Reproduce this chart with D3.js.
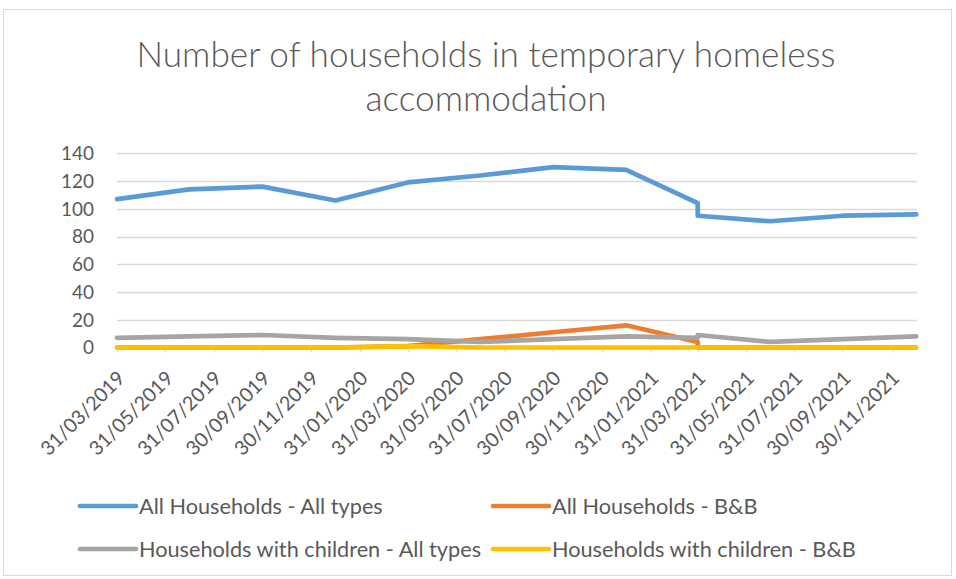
<!DOCTYPE html>
<html>
<head>
<meta charset="utf-8">
<script src="https://cdn.jsdelivr.net/npm/d3@7"></script>
<style>
  html, body { margin: 0; padding: 0; background: #fff; }
  svg text { font-family: Lato, "Open Sans", sans-serif; fill: #595959; }
</style>
</head>
<body>
<svg id="chart" width="956" height="579"></svg>
<script>
// ---- data ----
const titleLines = ["Number of households in temporary homeless", "accommodation"];
const dates = ["2019-03-31","2019-06-30","2019-09-30","2019-12-31","2020-03-31","2020-06-30",
               "2020-09-30","2020-12-31","2021-03-31","2021-03-31","2021-06-30","2021-09-30","2021-12-31"];
const allTypes      = [107, 114, 116, 106, 119, 124, 130, 128, 104, 95, 91, 95, 96];
const allBB         = [0, 0, 0, 0, 1, 6, 11, 16, 4, 0, 0, 0, 0];
const childAllTypes = [7, 8, 9, 7, 6, 4, 6, 8, 7, 9, 4, 6, 8];
const childBB       = [0, 0, 0, 0, 1, 0, 0, 0, 0, 0, 0, 0, 0];
const seriesNames = ["All Households - All types", "All Households - B&B",
                     "Households with children - All types", "Households with children - B&B"];
const seriesColors = ["#5b9bd5", "#ed7d31", "#a5a5a5", "#ffc000"];
const yTicks = [0, 20, 40, 60, 80, 100, 120, 140];
const xTickLabels = ["31/03/2019","31/05/2019","31/07/2019","30/09/2019","30/11/2019","31/01/2020",
  "31/03/2020","31/05/2020","31/07/2020","30/09/2020","30/11/2020","31/01/2021","31/03/2021",
  "31/05/2021","31/07/2021","30/09/2021","30/11/2021"];
const axisEnd = "2022-01-01";

(function () {
const svg = d3.select("#chart");
const parseISO = d3.timeParse("%Y-%m-%d");
const parseLbl = d3.timeParse("%d/%m/%Y");
const dateObjs = dates.map(parseISO);
const seriesVals = [allTypes, allBB, childAllTypes, childBB];

const pLeft = 117, pRight = 917, pTop = 153.3, pBottom = 347.5;
const x = d3.scaleTime().domain([dateObjs[0], parseISO(axisEnd)]).range([pLeft, pRight]);
const y = d3.scaleLinear().domain([0, 140]).range([pBottom, pTop]);

function fit(sel, target, base) {
  sel.style("font-size", base + "px");
  const w = sel.node().getComputedTextLength();
  const fs = base * target / w;
  sel.style("font-size", fs + "px");
  return fs;
}

// outer border
svg.append("rect").attr("x", 3.5).attr("y", 9.5).attr("width", 948).attr("height", 566)
  .attr("fill", "#fff").attr("stroke", "#d9d9d9").attr("stroke-width", 1);

// title
const t1 = svg.append("text").attr("x", 486).attr("y", 67).attr("text-anchor", "middle")
  .style("font-weight", 300).text(titleLines[0]);
const tfs = fit(t1, 699, 32);
svg.append("text").attr("x", 486).attr("y", 111).attr("text-anchor", "middle")
  .style("font-weight", 300).style("font-size", tfs + "px").text(titleLines[1]);

// gridlines
svg.append("g").selectAll("line").data(yTicks).join("line")
  .attr("x1", pLeft).attr("x2", pRight)
  .attr("y1", d => Math.round(y(d)) + 0.5).attr("y2", d => Math.round(y(d)) + 0.5)
  .attr("stroke", "#d9d9d9").attr("stroke-width", 1.3);

// y labels
const probe = svg.append("text").text("140");
const lfs = fit(probe, 33, 19);
probe.remove();
svg.append("g").selectAll("text").data(yTicks).join("text")
  .attr("x", 94).attr("y", d => y(d)).attr("dy", "0.36em").attr("text-anchor", "end")
  .style("font-size", lfs + "px")
  .text(d => d);

// x ticks
const tickDates = xTickLabels.map(parseLbl);
svg.append("g").selectAll("line").data(tickDates).join("line")
  .attr("x1", d => Math.round(x(d)) + 0.5).attr("x2", d => Math.round(x(d)) + 0.5)
  .attr("y1", pBottom).attr("y2", pBottom + 5)
  .attr("stroke", "#d9d9d9").attr("stroke-width", 1.3);
svg.append("g").selectAll("text").data(xTickLabels).join("text")
  .attr("transform", d => `translate(${x(parseLbl(d)) + 4},${pBottom + 27}) rotate(-45)`)
  .attr("text-anchor", "end").attr("dy", "0.36em")
  .style("font-size", (lfs * 1.04) + "px")
  .text(d => d);

// lines
const line = d3.line().defined(d => d[1] != null).x(d => x(d[0])).y(d => y(d[1]));
seriesVals.forEach((vals, i) => {
  svg.append("path")
    .datum(vals.map((v, j) => [dateObjs[j], v]))
    .attr("d", line).attr("fill", "none")
    .attr("stroke", seriesColors[i]).attr("stroke-width", 4.7)
    .attr("stroke-linejoin", "round").attr("stroke-linecap", "round");
});

// legend
const legPos = [[80, 506], [493, 506], [80, 549], [493, 549]];
let legFs = null;
seriesNames.forEach((name, i) => {
  const [lx, ly] = legPos[i];
  svg.append("line").attr("x1", lx).attr("x2", lx + 56).attr("y1", ly).attr("y2", ly)
    .attr("stroke", seriesColors[i]).attr("stroke-width", 4.7).attr("stroke-linecap", "round");
  const tx = svg.append("text").attr("x", lx + 59).attr("y", ly).attr("dy", "0.36em").text(name);
  if (legFs === null) legFs = fit(tx, 244, 19);
  else tx.style("font-size", legFs + "px");
});
})();
</script>
</body>
</html>
